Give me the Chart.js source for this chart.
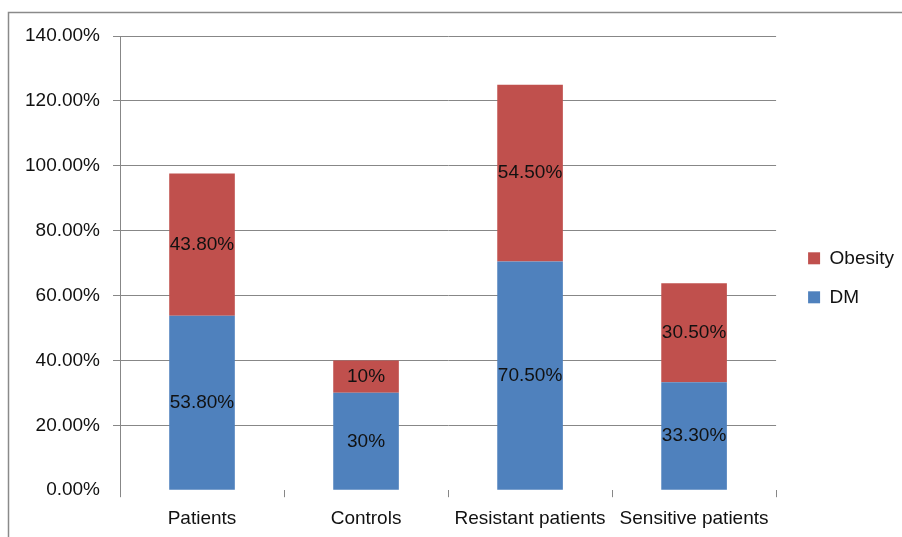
<!DOCTYPE html>
<html>
<head>
<meta charset="utf-8">
<script src="https://cdn.jsdelivr.net/npm/chart.js@4"></script>
<style>
  body { margin: 0; background: #fff; }
  canvas { display: block; }
</style>
</head>
<body>
<canvas id="riskChart" width="902" height="537"></canvas>
<script>
var groups = ['Patients', 'Controls', 'Resistant patients', 'Sensitive patients'];
var dmValues = [53.8, 30, 70.5, 33.3];
var obesityValues = [43.8, 10, 54.5, 30.5];
var yTicks = [0, 20, 40, 60, 80, 100, 120, 140];

var FONT = 'Liberation Sans, Arial, sans-serif';
var GRID = '#878787';

function pct(v) {
  return (v % 1 === 0 ? v : v.toFixed(2)) + '%';
}

// frame of the original figure (top and left edges only)
var framePlugin = {
  id: 'frame',
  beforeDraw: function (chart) {
    var ctx = chart.ctx;
    ctx.save();
    ctx.strokeStyle = '#8a8a8a';
    ctx.lineWidth = 1.5;
    ctx.beginPath();
    ctx.moveTo(8.5, 537);
    ctx.lineTo(8.5, 12.5);
    ctx.lineTo(902, 12.5);
    ctx.stroke();
    ctx.restore();
  }
};

// value labels in the middle of each segment, clipped to the bar
var segmentLabels = {
  id: 'segmentLabels',
  afterDatasetsDraw: function (chart) {
    var ctx = chart.ctx;
    chart.data.datasets.forEach(function (ds, i) {
      var meta = chart.getDatasetMeta(i);
      meta.data.forEach(function (bar, j) {
        var p = bar.getProps(['x', 'y', 'base', 'width'], true);
        var top = Math.min(p.y, p.base), bottom = Math.max(p.y, p.base);
        ctx.save();
        ctx.beginPath();
        ctx.rect(p.x - p.width / 2, top, p.width, bottom - top);
        ctx.clip();
        ctx.fillStyle = '#111';
        ctx.font = '19px ' + FONT;
        ctx.textAlign = 'center';
        ctx.textBaseline = 'middle';
        ctx.fillText(pct(ds.data[j]), p.x, (top + bottom) / 2);
        ctx.restore();
      });
    });
  }
};

new Chart(document.getElementById('riskChart'), {
  type: 'bar',
  data: {
    labels: groups,
    datasets: [{
      label: 'DM',
      data: dmValues,
      backgroundColor: '#4F81BD',
      barPercentage: 0.4,
      categoryPercentage: 1
    }, {
      label: 'Obesity',
      data: obesityValues,
      backgroundColor: '#C0504D',
      barPercentage: 0.4,
      categoryPercentage: 1
    }]
  },
  options: {
    responsive: false,
    animation: false,
    layout: { padding: { top: 36, left: 12, right: -2, bottom: -3 } },
    plugins: {
      tooltip: { enabled: false },
      legend: {
        position: 'right',
        align: 'start',
        reverse: true,
        // blank title only pushes the entries down to the middle
        title: { display: true, text: ' ', padding: { top: 0, bottom: 170 }, font: { size: 19 } },
        labels: {
          boxWidth: 12,
          boxHeight: 12,
          padding: 20,
          color: '#111',
          font: { family: FONT, size: 19 }
        }
      }
    },
    scales: {
      x: {
        stacked: true,
        grid: {
          offset: true,
          drawOnChartArea: false,
          drawTicks: true,
          tickLength: 7,
          color: GRID
        },
        border: { display: false },
        ticks: {
          color: '#111',
          padding: 10,
          maxRotation: 0,
          autoSkip: false,
          font: { family: FONT, size: 19 }
        }
      },
      y: {
        stacked: true,
        min: yTicks[0],
        max: yTicks[yTicks.length - 1],
        afterBuildTicks: function (scale) {
          scale.ticks = yTicks.map(function (v) { return { value: v }; });
        },
        grid: {
          color: function (c) { return c.tick && c.tick.value === 0 ? 'rgba(0,0,0,0)' : GRID; },
          tickLength: 7
        },
        border: { color: GRID },
        ticks: {
          color: '#111',
          padding: 13,
          font: { family: FONT, size: 19 },
          callback: function (v) { return v.toFixed(2) + '%'; }
        }
      },
      // empty spacer between plot and legend
      gap: {
        position: 'right',
        grid: { display: false },
        border: { display: false },
        ticks: { display: false },
        afterFit: function (scale) { scale.width = 12; }
      }
    }
  },
  plugins: [framePlugin, segmentLabels]
});
</script>
</body>
</html>
